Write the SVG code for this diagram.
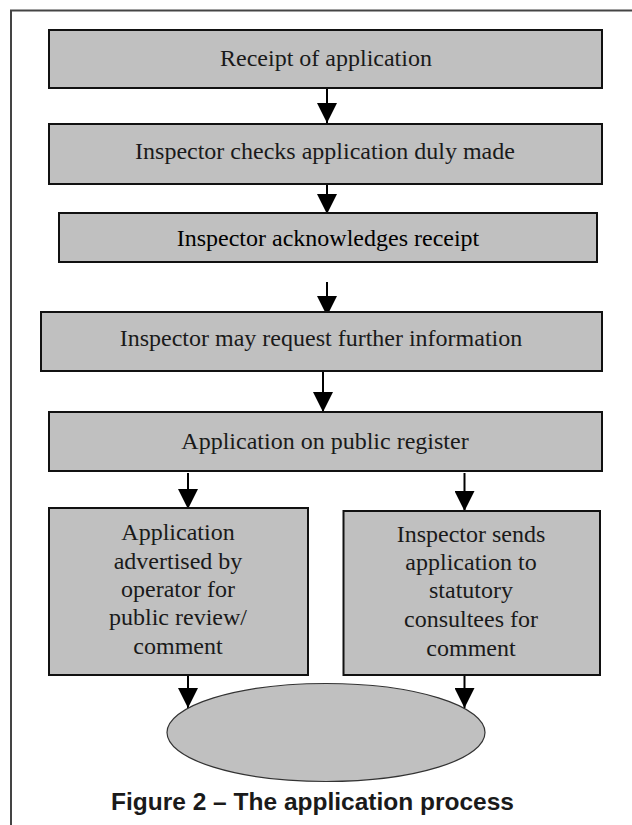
<svg xmlns="http://www.w3.org/2000/svg" width="632" height="825" viewBox="0 0 632 825">
<style>
.box{fill:#c0c0c0;stroke:#111;stroke-width:2}
.t{font-family:"Liberation Serif","Times New Roman",serif;font-size:24px;fill:#1a1a1a;text-anchor:middle}
.c{stroke:#000;stroke-width:2;fill:none;marker-end:url(#ah)}
.cap{font-family:"Liberation Sans",Arial,sans-serif;font-size:24.5px;font-weight:bold;fill:#1a1a1a;text-anchor:middle}
</style>
<defs>
<marker id="ah" markerUnits="userSpaceOnUse" viewBox="0 0 20 20" refX="20" refY="10" markerWidth="20" markerHeight="20" orient="auto">
<path d="M0,0 L20,10 L0,20 z" fill="#000"/>
</marker>
</defs>
<g id="frame" fill="none" stroke="#444" stroke-width="2">
<path d="M11,825 L11,10.5 L632,10.5"/>
</g>
<g id="connectors">
<line class="c" x1="327" y1="85" x2="327" y2="123"/>
<line class="c" x1="327" y1="185" x2="327" y2="214"/>
<line class="c" x1="327" y1="282" x2="327" y2="316"/>
<line class="c" x1="323" y1="372" x2="323" y2="412"/>
<line class="c" x1="188" y1="473" x2="188" y2="509"/>
<line class="c" x1="464.5" y1="473" x2="464.5" y2="511"/>
<line class="c" x1="188" y1="670" x2="188" y2="708"/>
<line class="c" x1="464.5" y1="670" x2="464.5" y2="708"/>
</g>
<g id="n1"><rect class="box" x="49" y="30" width="553" height="58"/><text class="t" x="326" y="66">Receipt of application</text></g>
<g id="n2"><rect class="box" x="49" y="124" width="553" height="60"/><text class="t" x="325" y="159">Inspector checks application duly made</text></g>
<g id="n3"><rect class="box" x="59" y="213" width="538" height="49"/><text class="t" x="328" y="246" style="fill:#000">Inspector acknowledges receipt</text></g>
<g id="n4"><rect class="box" x="41" y="312" width="561" height="59"/><text class="t" x="321" y="346">Inspector may request further information</text></g>
<g id="n5"><rect class="box" x="49" y="412" width="553" height="59"/><text class="t" x="325" y="449">Application on public register</text></g>
<g id="n6"><rect class="box" x="49" y="508" width="259" height="167"/>
<text class="t" x="178"><tspan x="178" y="540">Application</tspan><tspan x="178" y="569">advertised by</tspan><tspan x="178" y="597">operator for</tspan><tspan x="178" y="625">public review/</tspan><tspan x="178" y="654">comment</tspan></text></g>
<g id="n7"><rect class="box" x="343.5" y="511" width="256.5" height="164"/>
<text class="t" x="471"><tspan x="471" y="542">Inspector sends</tspan><tspan x="471" y="570">application to</tspan><tspan x="471" y="598">statutory</tspan><tspan x="471" y="627">consultees for</tspan><tspan x="471" y="656">comment</tspan></text></g>
<g id="n8"><ellipse cx="326" cy="732.5" rx="159" ry="49" fill="#c0c0c0" stroke="#333" stroke-width="1.2"/></g>
<text class="cap" x="312.5" y="810">Figure 2 – The application process</text>
</svg>
